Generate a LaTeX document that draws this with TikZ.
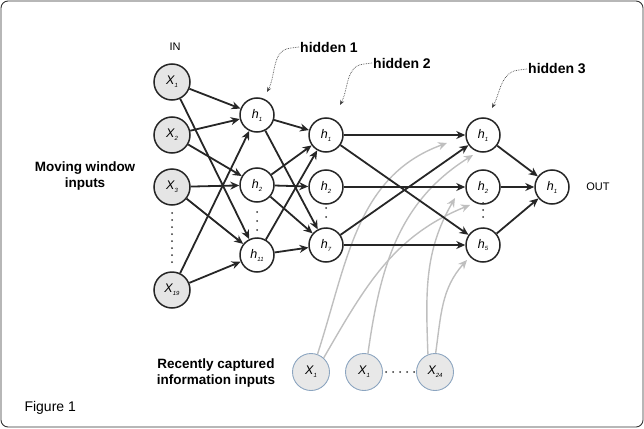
\documentclass[tikz,border=0pt]{standalone}
\usepackage{fontspec}
\setmainfont{Liberation Sans}
\usetikzlibrary{arrows.meta}
\definecolor{capblue}{RGB}{140,165,192}
\newcommand{\nsub}[2]{#1\raisebox{-0.45ex}{\fontsize{6}{6}\selectfont #2}}

\begin{document}
\begin{tikzpicture}[x=1pt, y=-1pt, >={Stealth[length=9pt,width=8pt]},
	in node/.style={circle,draw=black!85,fill=black!10,line width=1.5pt,minimum size=36pt,inner sep=0pt,font=\fontsize{12.5}{13}\selectfont\itshape},
	hid node/.style={circle,draw=black!85,fill=white,line width=1.5pt,minimum size=34pt,inner sep=0pt,font=\fontsize{12.5}{13}\selectfont\itshape},
	cap node/.style={circle,draw=capblue,fill=black!9,line width=0.9pt,minimum size=37pt,inner sep=0pt,font=\fontsize{12.5}{13}\selectfont\itshape},
	link/.style={->,line width=1.8pt,black!85},
	feed/.style={->,line width=1.4pt,black!25},
	pointer/.style={-{Stealth[length=5pt,width=4pt]},densely dotted,line width=0.7pt,black!75},
	side label/.style={font=\bfseries\fontsize{13.5}{16.5}\selectfont,align=center},
	layer label/.style={font=\bfseries\fontsize{14}{16}\selectfont,anchor=west,inner sep=1pt}]

	\useasboundingbox (0,0) rectangle (644,428);
	\draw[rounded corners=7pt,line width=0.9pt,black!80] (1,1) rectangle (643,427);

	% input layer
	\node[in node] (x1) at (172,82) {\nsub{X}{1}};
	\node[in node] (x2) at (172,135) {\nsub{X}{2}};
	\node[in node] (x3) at (172,187) {\nsub{X}{3}};
	\node[in node] (x19) at (172,290) {\nsub{X}{19}};

	% hidden layers
	\node[hid node] (a1) at (257,115) {\nsub{h}{1}};
	\node[hid node] (a2) [below of=a1, node distance=70pt] {\nsub{h}{2}};
	\node[hid node] (a11) [below of=a2, node distance=70pt] {\nsub{h}{11}};
	\node[hid node] (b1) at (326,135) {\nsub{h}{1}};
	\node[hid node] (b2) at (326,187) {\nsub{h}{2}};
	\node[hid node] (b7) at (326,245) {\nsub{h}{7}};
	\node[hid node] (c1) at (483,135) {\nsub{h}{1}};
	\node[hid node] (c2) at (483,187) {\nsub{h}{2}};
	\node[hid node] (c5) at (483,245) {\nsub{h}{5}};
	\node[hid node] (o1) at (552,187) {\nsub{h}{1}};

	% recently captured inputs
	\node[cap node] (r1) at (311,372) {\nsub{X}{1}};
	\node[cap node] (r2) at (364,372) {\nsub{X}{1}};
	\node[cap node] (r24) at (435,372) {\nsub{X}{24}};

	% dots
	\foreach \y in {213,220,...,262} \fill[black!80] (172,\y) circle (1pt);
	\foreach \y in {212,221,230} \fill[black!80] (257,\y) circle (1pt);
	\foreach \y in {208,217} \fill[black!80] (326,\y) circle (1pt);
	\foreach \y in {203,210,217} \fill[black!80] (483,\y) circle (1pt);
	\foreach \x in {386,393,...,414} \fill[black!80] (\x,372) circle (1pt);

	% texts
	\node[font=\fontsize{11}{12}\selectfont] (in) at (175,47) {IN};
	\node[font=\fontsize{11}{12}\selectfont] (out) at (598,187) {OUT};
	\node[side label] (mw) at (85,176) {Moving window\\inputs};
	\node[side label] (rc) at (216,373) {Recently captured\\information inputs};
	\node[anchor=west,font=\fontsize{14}{15}\selectfont] (fig) at (21,408) {Figure 1};
	\node[layer label] (l1) at (299,47) {hidden 1};
	\node[layer label] (l2) at (372,63) {hidden 2};
	\node[layer label] (l3) at (527,69) {hidden 3};

	% pointers
	\coordinate (t1) at ([shift={(10,-23)}]a1.center);
	\coordinate (t2) at ([shift={(14,-30)}]b1.center);
	\coordinate (t3) at ([shift={(9,-27)}]c1.center);
	\draw[pointer] (l1.west) -- ++(-8,1) to[out=185,in=62] (t1);
	\draw[pointer] (l2.west) -- ++(-8,1) to[out=185,in=62] (t2);
	\draw[pointer] (l3.west) -- ++(-8,1) to[out=185,in=62] (t3);

	% gray feeds
	\coordinate (g1) at ([shift={(-36,8)}]c1.center);
	\coordinate (g2) at ([shift={(-13,18)}]c2.center);
	\coordinate (g3) at ([shift={(-10,20)}]c1.center);
	\coordinate (g4) at ([shift={(-28,11)}]c2.center);
	\coordinate (g5) at ([shift={(-16,15)}]c5.center);
	\draw[feed] (r1.70) to[out=72,in=200] (g1);
	\draw[feed] (r1.48) to[out=60,in=202] (g2);
	\draw[feed] (r2.78) to[out=82,in=212] (g3);
	\draw[feed] (r24.112) to[out=92,in=240] (g4);
	\draw[feed] (r24.88) to[out=82,in=228] (g5);

	% black links
	\path[link]
	(x1) edge (a1)
	edge (a11)
	(x2) edge (a1)
	edge (a2)
	(x3) edge (a2)
	edge (a11)
	(x19) edge (a1)
	edge (a11)
	(a1) edge (b1)
	edge (b7)
	(a2) edge (b1)
	edge (b2)
	edge (b7)
	(a11) edge (b1)
	edge (b7)
	(b1) edge (c1)
	edge (c5)
	(b2) edge (c2)
	(b7) edge (c1)
	edge (c5)
	(c1) edge (o1)
	(c2) edge (o1)
	(c5) edge (o1);
\end{tikzpicture}
\end{document}
